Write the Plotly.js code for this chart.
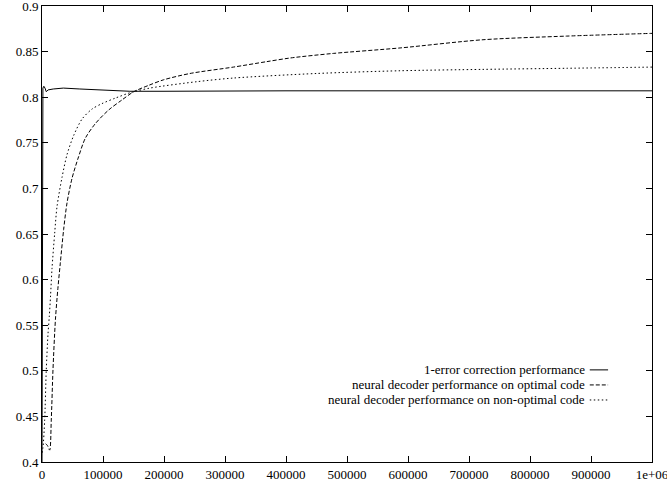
<!DOCTYPE html>
<html>
<head>
<meta charset="utf-8">
<script src="https://cdn.plot.ly/plotly-3.0.1.min.js"></script>
<style>html,body{margin:0;padding:0;background:#fff;}#chart{width:667px;height:491px;}</style>
</head>
<body>
<div id="chart"></div>
<script>
// Series names
var seriesNames = [
  "1-error correction performance",
  "neural decoder performance on optimal code",
  "neural decoder performance on non-optimal code"
];

// 1-error correction performance (solid)
var solidX = [0, 1500, 3000, 4900, 7000, 10000, 18500, 35000, 62000, 89700, 117000, 144000, 200000, 300000, 400000, 500000, 600000, 700000, 800000, 900000, 1000000];
var solidY = [0.40, 0.81, 0.812, 0.810, 0.806, 0.808, 0.809, 0.810, 0.809, 0.808, 0.807, 0.8065, 0.8065, 0.807, 0.807, 0.807, 0.807, 0.807, 0.807, 0.807, 0.807];

// neural decoder on optimal code (dashed)
var optX = [6000, 9000, 12600, 15200, 18000, 22000, 26000, 30000, 35500, 41000, 49200, 60100, 71000, 87400, 109300, 131100, 150300, 174900, 199000, 242600, 313600, 368400, 407000, 477500, 587000, 723000, 860000, 1000000];
var optY = [0.42, 0.418, 0.413, 0.446, 0.501, 0.556, 0.590, 0.618, 0.655, 0.684, 0.711, 0.735, 0.755, 0.771, 0.786, 0.797, 0.806, 0.813, 0.819, 0.826, 0.833, 0.839, 0.843, 0.848, 0.854, 0.863, 0.867, 0.870];

// neural decoder on non-optimal code (dotted)
var nonX = [0, 1600, 4400, 7000, 9800, 12000, 14000, 16400, 20800, 24600, 32800, 41000, 51900, 65600, 82000, 98400, 120200, 144800, 177000, 253600, 313600, 450000, 587000, 723000, 860000, 1000000];
var nonY = [0.41, 0.416, 0.446, 0.501, 0.540, 0.560, 0.582, 0.612, 0.651, 0.680, 0.712, 0.737, 0.758, 0.776, 0.787, 0.793, 0.799, 0.805, 0.810, 0.817, 0.821, 0.826, 0.829, 0.8305, 0.8317, 0.833];

// Tick labels
var xTickVals = [0, 100000, 200000, 300000, 400000, 500000, 600000, 700000, 800000, 900000, 1000000];
var xTickText = ["0", "100000", "200000", "300000", "400000", "500000", "600000", "700000", "800000", "900000", "1e+06"];
var yTickVals = [0.4, 0.45, 0.5, 0.55, 0.6, 0.65, 0.7, 0.75, 0.8, 0.85, 0.9];
var yTickText = ["0.4", "0.45", "0.5", "0.55", "0.6", "0.65", "0.7", "0.75", "0.8", "0.85", "0.9"];

var FONT = "'Liberation Serif', 'Times New Roman', Times, serif";
var dashes = ["solid", "4px,2px", "1.5px,2.5px"];
var shapesLine = ["linear", "spline", "spline"];
var xs = [solidX, optX, nonX];
var ys = [solidY, optY, nonY];

var traces = seriesNames.map(function(n, i) {
  return {x: xs[i], y: ys[i], type: "scatter", mode: "lines", name: n,
          line: {color: "#000", width: 1, dash: dashes[i], shape: shapesLine[i], smoothing: 0.8},
          showlegend: false};
});

// Gnuplot-style legend: right-aligned text with line sample on the right
var legY = [0.202, 0.169, 0.136];
var annotations = seriesNames.map(function(n, i) {
  return {xref: "paper", yref: "paper", x: 0.892, y: legY[i], xanchor: "right", yanchor: "middle",
          text: n, showarrow: false, borderpad: 0, font: {family: FONT, size: 13, color: "#000"}};
});
var shapes = seriesNames.map(function(n, i) {
  return {type: "line", xref: "paper", yref: "paper", x0: 0.898, x1: 0.928, y0: legY[i], y1: legY[i],
          line: {color: "#000", width: 1, dash: dashes[i]}};
});

var layout = {
  width: 667, height: 491,
  margin: {l: 42, r: 15, t: 6, b: 29},
  paper_bgcolor: "#fff", plot_bgcolor: "#fff",
  font: {family: FONT, size: 13, color: "#000"},
  xaxis: {range: [0, 1000000], tickvals: xTickVals, ticktext: xTickText, ticks: "inside", ticklen: 6,
          tickcolor: "#000", showline: true, linecolor: "#000", linewidth: 1, mirror: "ticks",
          showgrid: false, zeroline: false, ticklabeloverflow: "allow",
          tickfont: {family: FONT, size: 13, color: "#000"}},
  yaxis: {range: [0.4, 0.9], tickvals: yTickVals, ticktext: yTickText, ticks: "inside", ticklen: 6,
          tickcolor: "#000", showline: true, linecolor: "#000", linewidth: 1, mirror: "ticks",
          showgrid: false, zeroline: false, ticklabeloverflow: "allow",
          tickfont: {family: FONT, size: 13, color: "#000"}},
  annotations: annotations,
  shapes: shapes,
  showlegend: false
};

Plotly.newPlot("chart", traces, layout, {displayModeBar: false, staticPlot: true});
</script>
</body>
</html>
